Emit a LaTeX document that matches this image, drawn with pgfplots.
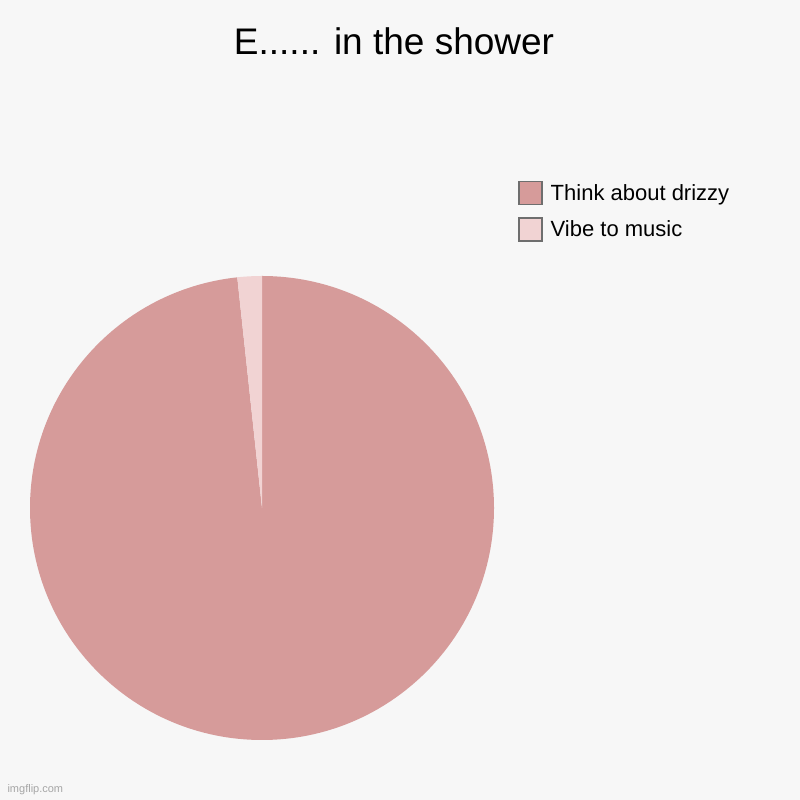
\documentclass[border=0pt]{standalone}
\usepackage{pgfplots}
\usepackage{pgfplotstable}
\pgfplotsset{compat=1.18}
\usepackage{fontspec}
\setmainfont{Liberation Sans}

\definecolor{bgcol}{HTML}{F7F7F7}
\definecolor{drizzy}{HTML}{D69B9A}
\definecolor{vibe}{HTML}{F1D3D3}
\definecolor{boxline}{HTML}{6E6E6E}

% share of each answer
\pgfplotstableread[col sep=comma]{
label,value
Think about drizzy,98.3
Vibe to music,1.7
}\piedata

\begin{document}
\begin{tikzpicture}
  \pgfplotstablegetelem{0}{value}\of\piedata \pgfmathsetmacro\va{\pgfplotsretval}
  \pgfplotstablegetelem{1}{value}\of\piedata \pgfmathsetmacro\vb{\pgfplotsretval}
  \pgfmathsetmacro\angA{360*(\va/(\va+\vb))}
  \pgfmathsetmacro\endA{90-\angA}
  \fill[bgcol] (0,0) rectangle (800pt,800pt);
  \begin{axis}[
      at={(0,0)}, anchor=south west,
      width=800pt, height=800pt, scale only axis,
      xmin=0, xmax=800, ymin=0, ymax=800,
      hide axis, clip=false,
      title={E...... in the shower},
      title style={at={(0.4925,0.9406)}, anchor=center, font=\fontsize{37}{40}\selectfont},
      legend cell align=left,
      legend image code/.code={\draw[#1] (0pt,-11.5pt) rectangle (23pt,11.5pt);},
      legend style={at={(0.6475,0.774)}, anchor=north west, draw=none, fill=none,
        inner sep=0pt, font=\fontsize{22}{26}\selectfont,
        row sep=12pt, nodes={inner sep=0pt, anchor=west},
        column sep=8pt},
    ]
    \addlegendimage{fill=drizzy, draw=boxline, line width=1.5pt}
    \addlegendentry{Think about drizzy}
    \addlegendimage{fill=vibe, draw=boxline, line width=1.5pt}
    \addlegendentry{Vibe to music}
    \fill[drizzy] (axis cs:262,292) -- ++(90:232pt)
      arc[start angle=90, end angle=\endA, radius=232pt] -- cycle;
    \fill[vibe] (axis cs:262,292) -- ++(\endA:232pt)
      arc[start angle=\endA, end angle=-270, radius=232pt] -- cycle;
    \node[anchor=west, text=gray!70, font=\fontsize{11}{13}\selectfont]
      at (axis cs:4,10) {imgflip.com};
  \end{axis}
\end{tikzpicture}
\end{document}
